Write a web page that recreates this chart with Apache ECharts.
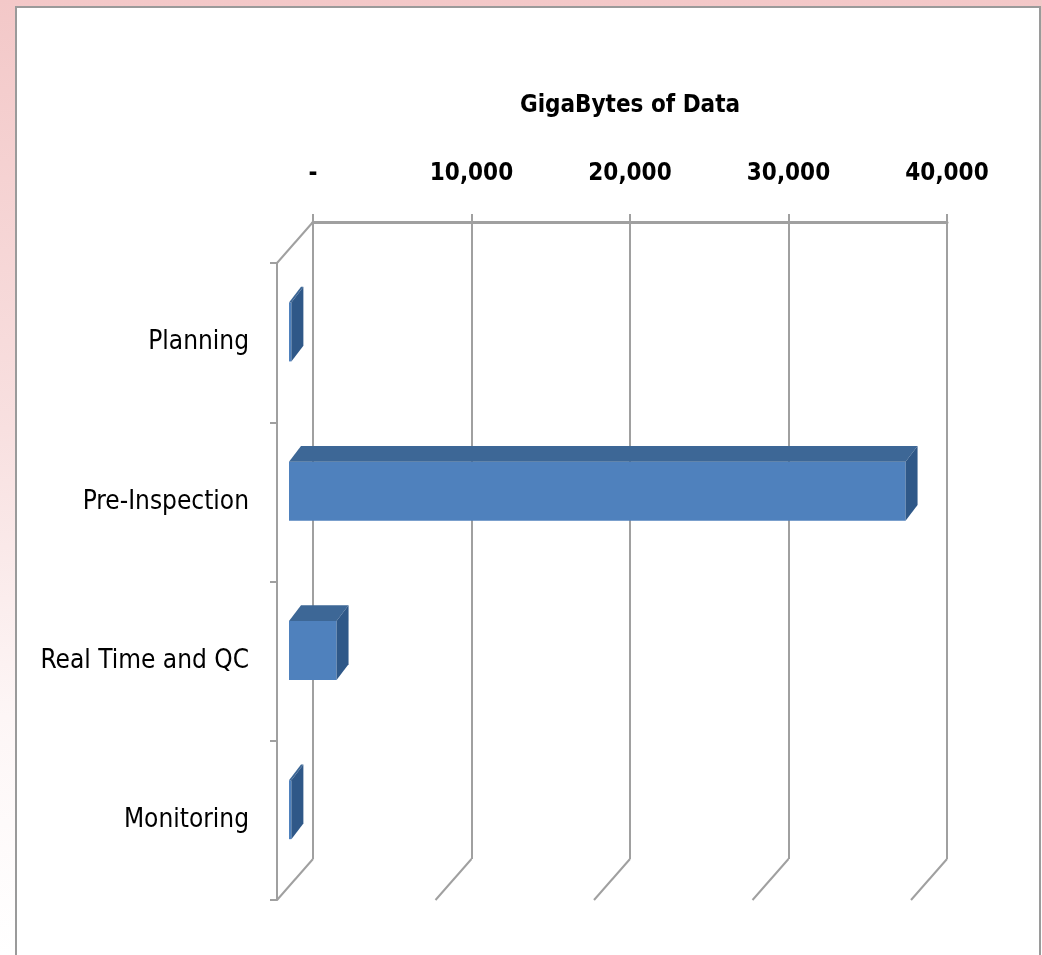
<!DOCTYPE html>
<html>
<head>
<meta charset="utf-8">
<script src="https://cdn.jsdelivr.net/npm/echarts@6/dist/echarts.min.js"></script>
<style>
  html, body { margin: 0; padding: 0; }
  body {
    width: 1042px; height: 955px; overflow: hidden; position: relative;
    background: linear-gradient(to bottom, #f3c8c8 0%, #f8e0e0 45%, #fdf6f6 75%, #ffffff 100%);
  }
  #frame {
    position: absolute; left: 15px; top: 6px; width: 1022px; height: 960px;
    background: #fff; border-left: 2px solid #9a9a9a; border-top: 2px solid #9a9a9a; border-right: 2px solid #9a9a9a;
  }
  #main { position: absolute; left: 0; top: 0; width: 1042px; height: 955px; }
</style>
</head>
<body>
<div id="frame"></div>
<div id="main"></div>
<script>
// data
var categories = ["Planning", "Pre-Inspection", "Real Time and QC", "Monitoring"];
var gigabytes = [150, 38900, 3000, 150];
var xTicks = [0, 10000, 20000, 30000, 40000];

// layout of the fake 3D box: front plane and back wall
var front = { left: 277, top: 263, width: 634, height: 637 };
var back = { left: 313, top: 222, width: 634, height: 637 };
var DX = back.left - front.left;
var DY = back.top - front.top;

var font = '"Liberation Sans Narrow", "DejaVu Sans Condensed", "Liberation Sans", sans-serif';
var lineColor = "#a0a0a0";

var myChart = echarts.init(document.getElementById("main"), null, { renderer: "canvas" });

function fmt(v) {
    if (v === 0) return "-";
    return String(v).replace(/\B(?=(\d{3})+(?!\d))/g, ",");
}

function renderFrame(params, api) {
    var cs = params.coordSys;
    var v = api.value(0);
    var bottom = cs.y + cs.height;
    var x = api.coord([v, 0])[0];
    var children = [{
        type: "line",
        shape: { x1: x, y1: bottom, x2: x + DX, y2: bottom + DY },
        style: { stroke: lineColor, lineWidth: 2 }
    }];
    if (v === 0) {
        children.push({
            type: "line",
            shape: { x1: cs.x, y1: cs.y, x2: cs.x + DX, y2: cs.y + DY },
            style: { stroke: lineColor, lineWidth: 2 }
        });
    }
    return { type: "group", children: children };
}

function renderBar(params, api) {
    var idx = api.value(1);
    var start = api.coord([0, idx]);
    var end = api.coord([api.value(0), idx]);
    var band = api.size([0, 1])[1];
    var h = band * 0.37;
    var fx = DX / 3, fy = DY / 3 + 3;
    var ddx = DX / 3, ddy = DY / 3 - 2;
    var x0 = start[0] + fx, x1 = end[0] + fx;
    var yt = start[1] + fy - h / 2, yb = start[1] + fy + h / 2;
    return {
        type: "group",
        children: [{
            type: "polygon",
            shape: { points: [[x0, yt], [x1, yt], [x1, yb], [x0, yb]] },
            style: { fill: "#4f81bd" }
        }, {
            type: "polygon",
            shape: { points: [[x0, yt], [x0 + ddx, yt + ddy], [x1 + ddx, yt + ddy], [x1, yt]] },
            style: { fill: "#3d6796" }
        }, {
            type: "polygon",
            shape: { points: [[x1, yt], [x1 + ddx, yt + ddy], [x1 + ddx, yb + ddy], [x1, yb]] },
            style: { fill: "#2f5888" }
        }]
    };
}

var option = {
    backgroundColor: "transparent",
    animation: false,
    title: {
        text: "GigaBytes of Data",
        left: 630,
        textAlign: "center",
        top: 94,
        padding: 0,
        textStyle: { fontFamily: font, fontSize: 24, fontWeight: "bold", color: "#000" }
    },
    grid: [
        { left: back.left, top: back.top, width: back.width, height: back.height },
        { left: front.left, top: front.top, width: front.width, height: front.height }
    ],
    xAxis: [{
        type: "value", gridIndex: 0, position: "top",
        min: 0, max: 40000, interval: 10000,
        axisLine: { show: true, lineStyle: { color: lineColor, width: 3 } },
        axisTick: { show: true, length: 8, lineStyle: { color: lineColor, width: 2 } },
        axisLabel: { formatter: fmt, margin: 36, fontFamily: font, fontSize: 24, fontWeight: "bold", color: "#000" },
        splitLine: { show: true, lineStyle: { color: lineColor, width: 2 } }
    }, {
        type: "value", gridIndex: 1, min: 0, max: 40000, interval: 10000, show: false
    }],
    yAxis: [{
        type: "category", gridIndex: 0, data: categories, inverse: true, show: false
    }, {
        type: "category", gridIndex: 1, data: categories, inverse: true,
        axisLine: { show: true, lineStyle: { color: lineColor, width: 2 } },
        axisTick: { show: true, length: 7, lineStyle: { color: lineColor, width: 2 } },
        axisLabel: { margin: 28, fontFamily: font, fontSize: 26, color: "#000" },
        splitLine: { show: false }
    }],
    series: [{
        type: "custom", name: "frame",
        xAxisIndex: 1, yAxisIndex: 1,
        data: xTicks.map(function (v) { return [v, 0]; }),
        renderItem: renderFrame,
        silent: true, z: 1
    }, {
        type: "custom", name: "GigaBytes",
        xAxisIndex: 1, yAxisIndex: 1,
        data: gigabytes.map(function (v, i) { return [v, i]; }),
        encode: { x: 0, y: 1 },
        renderItem: renderBar,
        z: 3
    }]
};

myChart.setOption(option);
window.onresize = myChart.resize;
</script>
</body>
</html>
